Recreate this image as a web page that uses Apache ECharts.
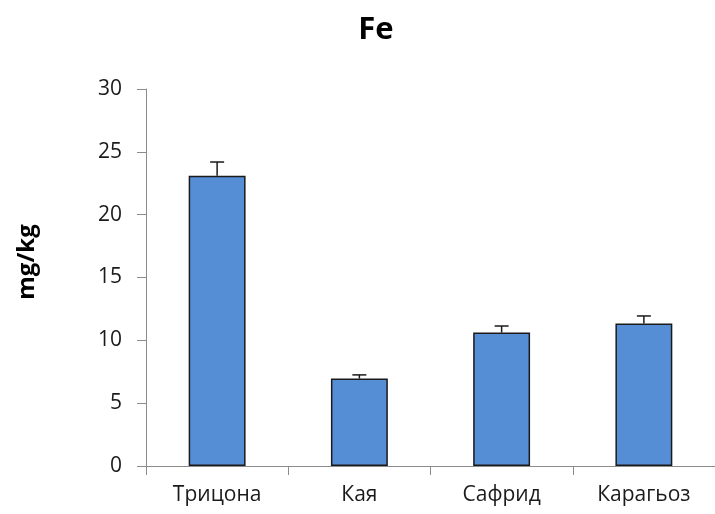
<!DOCTYPE html>
<html>
<head>
<meta charset="utf-8">
<script src="https://cdn.jsdelivr.net/npm/echarts@6/dist/echarts.min.js"></script>
<style>html,body{margin:0;padding:0;background:#fff}#c{width:715px;height:514px}</style>
</head>
<body>
<div id="c"></div>
<script>
var categories = ['Трицона', 'Кая', 'Сафрид', 'Карагьоз'];
var values = [23.09, 6.96, 10.62, 11.34];
var errors = [1.1, 0.29, 0.52, 0.6];
var yTicks = { min: 0, max: 30, interval: 5 };

var chart = echarts.init(document.getElementById('c'));
var font = '"Open Sans", "Liberation Sans", sans-serif';
chart.setOption({
  animation: false,
  title: {
    text: 'Fe', left: 371, top: 10, textAlign: 'center',
    textStyle: { fontFamily: font, fontSize: 31, fontWeight: 'bold', color: '#000' }
  },
  graphic: [{
    type: 'text', x: 27, y: 262, rotation: Math.PI / 2,
    style: {
      text: 'mg/kg', fontFamily: font, fontSize: 24, fontWeight: 'bold', fill: '#000',
      textAlign: 'center', textVerticalAlign: 'middle'
    }
  }],
  grid: { left: 146, right: 0, top: 89, bottom: 48 },
  xAxis: {
    type: 'category', data: categories,
    axisLine: { lineStyle: { color: '#8c8c8c', width: 1 } },
    axisTick: { show: true, length: 9, alignWithLabel: false, lineStyle: { color: '#8c8c8c' } },
    axisLabel: { fontFamily: font, fontSize: 21, color: '#1a1a1a', margin: 19 }
  },
  yAxis: {
    type: 'value', min: yTicks.min, max: yTicks.max, interval: yTicks.interval,
    axisLine: { show: true, lineStyle: { color: '#8c8c8c', width: 1 } },
    axisTick: { show: true, length: 9, lineStyle: { color: '#8c8c8c' } },
    splitLine: { show: false },
    axisLabel: { fontFamily: font, fontSize: 21, color: '#1a1a1a', margin: 24 }
  },
  series: [
    {
      type: 'bar', data: values, barWidth: '40%',
      itemStyle: { color: '#558ED5', borderColor: '#1a1a1a', borderWidth: 1.5 },
      z: 2
    },
    {
      type: 'custom', z: 5,
      data: values.map(function (v, i) { return [i, v, v + errors[i]]; }),
      renderItem: function (params, api) {
        var x = api.value(0);
        var p0 = api.coord([x, api.value(1)]);
        var p1 = api.coord([x, api.value(2)]);
        var half = 7;
        var st = { stroke: '#1a1a1a', lineWidth: 1.5 };
        return {
          type: 'group',
          children: [
            { type: 'line', shape: { x1: p0[0], y1: p0[1], x2: p1[0], y2: p1[1] }, style: st },
            { type: 'line', shape: { x1: p1[0] - half, y1: p1[1], x2: p1[0] + half, y2: p1[1] }, style: st }
          ]
        };
      }
    }
  ]
});
</script>
</body>
</html>
